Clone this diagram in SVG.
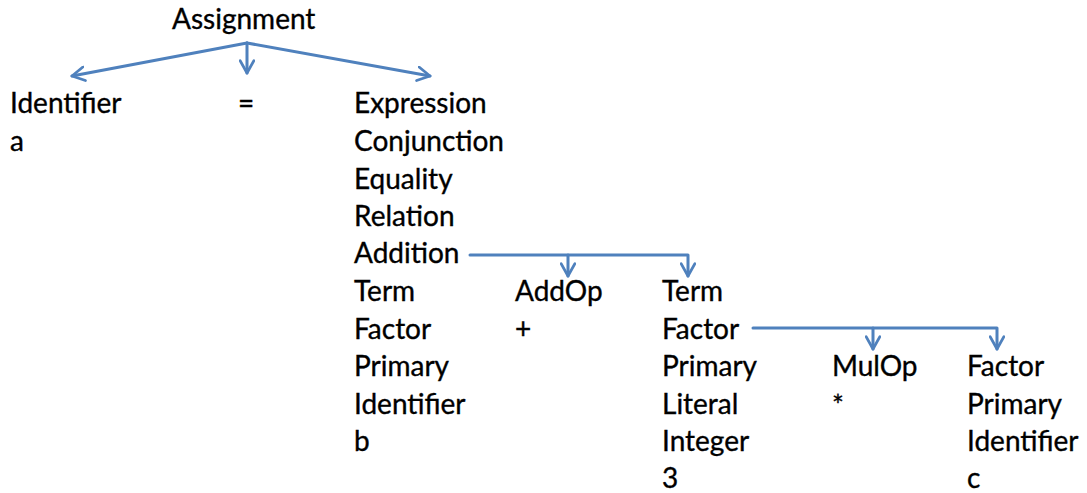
<svg xmlns="http://www.w3.org/2000/svg" width="1087" height="493" viewBox="0 0 1087 493">
<style>
text{font-family:Lato,"Open Sans","Liberation Sans",sans-serif;font-size:28px;fill:#000;stroke:#000;stroke-width:0.35}
.c{fill:none;stroke:#4F81BD;stroke-width:3;stroke-linejoin:round;stroke-linecap:round}
</style>
<defs>
<marker id="ah" viewBox="0 0 12 12" refX="10" refY="6" markerWidth="5.5" markerHeight="5.5" orient="auto" markerUnits="strokeWidth">
<path d="M1,1 L10,6 L1,11" fill="none" stroke="#4F81BD" stroke-width="2" stroke-linecap="round" stroke-linejoin="round"/>
</marker>
</defs>
<rect width="1087" height="493" fill="#fff"/>
<g id="connectors">
<path class="c" d="M247,43 L72,76" marker-end="url(#ah)"/>
<path class="c" d="M247,43 L247,73" marker-end="url(#ah)"/>
<path class="c" d="M247,43 L430,76" marker-end="url(#ah)"/>
<path class="c" d="M470,255 L568,255 L568,276" marker-end="url(#ah)"/>
<path class="c" d="M568,255 L688,255 L688,276" marker-end="url(#ah)"/>
<path class="c" d="M753,328 L873,328 L873,349" marker-end="url(#ah)"/>
<path class="c" d="M873,328 L997,328 L997,349" marker-end="url(#ah)"/>
</g>
<g id="n-assignment"><text x="172" y="29">Assignment</text></g>
<g id="n-identifier-a"><text x="10" y="113">Identifier</text><text x="10" y="151">a</text></g>
<g id="n-equals"><text x="238" y="113">=</text></g>
<g id="n-expression">
<text x="354" y="113">Expression</text>
<text x="354" y="151">Conjunction</text>
<text x="354" y="189">Equality</text>
<text x="354" y="226">Relation</text>
<text x="354" y="263">Addition</text>
<text x="354" y="301">Term</text>
<text x="354" y="339">Factor</text>
<text x="354" y="376">Primary</text>
<text x="354" y="414">Identifier</text>
<text x="354" y="451">b</text>
</g>
<g id="n-addop"><text x="515" y="301">AddOp</text><text x="515" y="339">+</text></g>
<g id="n-term"><text x="662" y="301">Term</text><text x="662" y="339">Factor</text><text x="662" y="376">Primary</text><text x="662" y="414">Literal</text><text x="662" y="451">Integer</text><text x="662" y="488">3</text></g>
<g id="n-mulop"><text x="832" y="376">MulOp</text><text x="832" y="416">*</text></g>
<g id="n-factor"><text x="967" y="376">Factor</text><text x="967" y="414">Primary</text><text x="967" y="451">Identifier</text><text x="967" y="488">c</text></g>
</svg>
